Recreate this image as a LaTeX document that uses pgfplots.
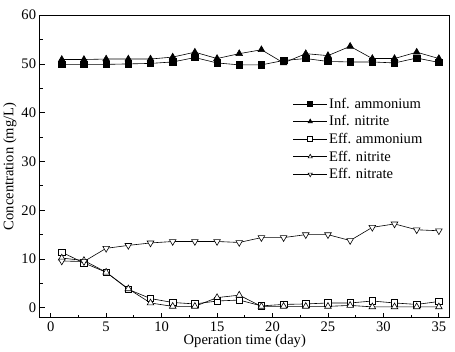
\documentclass[border=0pt]{standalone}
\usepackage{pgfplots}
\pgfplotsset{compat=1.18}
\usepackage{fontspec}
\setmainfont{Liberation Serif}

\begin{document}
\begin{tikzpicture}[x=1bp,y=1bp]
\begin{axis}[
  scale only axis,
  width=407bp, height=300bp,
  xmin=-1, xmax=36, ymin=-2, ymax=60,
  xtick={0,5,...,35}, ytick={0,10,...,60},
  minor x tick num=1, minor y tick num=1,
  tick align=inside,
  xtick pos=bottom, ytick pos=left,
  major tick length=5bp, minor tick length=3bp,
  axis line style={line width=1pt},
  tick style={line width=0.8pt, black},
  font=\fontsize{14.5}{16}\selectfont,
  /pgf/number format/assume math mode=true,
  xlabel={Operation time (day)},
  ylabel={Concentration (mg/L)},
  xticklabel style={yshift=-1bp},
  xlabel style={yshift=4bp},
  ylabel style={yshift=-2bp},
  legend style={draw=none, fill=none, at={(0.614,0.735)}, anchor=north west,
    font=\fontsize{14.5}{16}\selectfont, row sep=2.8bp, inner sep=1bp,
    /tikz/every even column/.append style={column sep=2bp},
    nodes={inner sep=1.5bp}},
  legend cell align=left,
  legend image code/.code={%
    \draw[mark repeat=2, mark phase=2, #1, mark size=2.4bp]
      plot coordinates {(0bp,0bp) (17bp,0bp) (34bp,0bp)};},
  every axis plot/.append style={black, line width=0.6pt, mark size=3.2bp},
]
\addplot[mark=square*, mark options={fill=black}] coordinates {
 (1,49.9) (3,49.9) (5,49.9) (7,50.0) (9,50.1) (11,50.4) (13,51.3) (15,50.2)
 (17,49.8) (19,49.8) (21,50.7) (23,51.1) (25,50.5) (27,50.4) (29,50.4)
 (31,50.2) (33,51.2) (35,50.3)};
\addlegendentry{Inf. ammonium}
\addplot[mark=triangle*, mark options={fill=black}, mark size=3.8bp] coordinates {
 (1,50.9) (3,50.9) (5,51.0) (7,51.0) (9,51.0) (11,51.4) (13,52.4) (15,51.1)
 (17,52.1) (19,52.9) (21,50.2) (23,52.1) (25,51.7) (27,53.6) (29,51.1)
 (31,51.1) (33,52.4) (35,51.1)};
\addlegendentry{Inf. nitrite}
\addplot[mark=square*, mark options={fill=white}] coordinates {
 (1,11.4) (3,9.2) (5,7.3) (7,3.8) (9,1.9) (11,1.1) (13,0.8) (15,1.4)
 (17,1.6) (19,0.4) (21,0.7) (23,0.8) (25,1.0) (27,1.0) (29,1.4)
 (31,1.0) (33,0.7) (35,1.3)};
\addlegendentry{Eff. ammonium}
\addplot[mark=triangle*, mark options={fill=white}, mark size=3.8bp] coordinates {
 (1,10.2) (3,9.7) (5,7.3) (7,3.9) (9,1.0) (11,0.3) (13,0.3) (15,2.1)
 (17,2.6) (19,0.3) (21,0.3) (23,0.3) (25,0.3) (27,0.5) (29,0.2)
 (31,0.2) (33,0.2) (35,0.2)};
\addlegendentry{Eff. nitrite}
\addplot[mark=triangle*, mark options={fill=white, rotate=180}, mark size=3.8bp] coordinates {
 (1,9.6) (3,9.5) (5,12.2) (7,12.8) (9,13.3) (11,13.6) (13,13.6) (15,13.6)
 (17,13.4) (19,14.4) (21,14.4) (23,15.0) (25,15.0) (27,13.8) (29,16.5)
 (31,17.2) (33,16.0) (35,15.8)};
\addlegendentry{Eff. nitrate}
\end{axis}
% white margin above and right of the plot area
\path (current axis.north) ++(0,15bp);
\path (current axis.east) ++(5bp,0);
\end{tikzpicture}
\end{document}
